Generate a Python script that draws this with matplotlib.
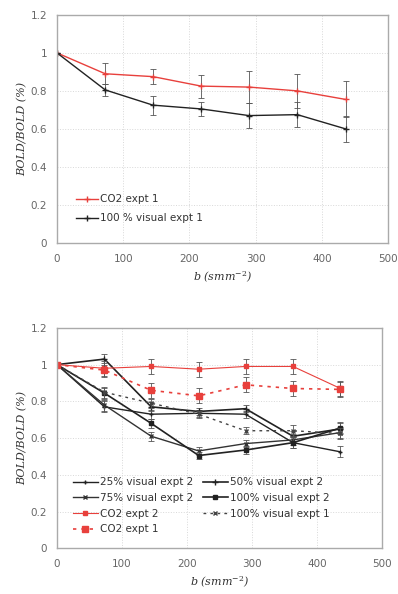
import numpy as np
import matplotlib
matplotlib.use('Agg')
import matplotlib.pyplot as plt
from matplotlib.lines import Line2D

plt.rcParams['mathtext.fontset'] = 'dejavuserif'

b = [0, 73, 145, 218, 290, 363, 436]

# top panel
co2_e1_top = [1.0, 0.89, 0.875, 0.825, 0.82, 0.80, 0.755]
co2_e1_top_err = [0, 0.055, 0.04, 0.06, 0.085, 0.09, 0.095]
vis100_e1_top = [1.0, 0.805, 0.725, 0.705, 0.67, 0.675, 0.60]
vis100_e1_top_err = [0, 0.03, 0.05, 0.035, 0.065, 0.065, 0.07]

# bottom panel
vis25_e2 = [1.0, 0.77, 0.73, 0.735, 0.73, 0.575, 0.525]
vis50_e2 = [1.0, 1.03, 0.77, 0.745, 0.76, 0.61, 0.65]
vis75_e2 = [1.0, 0.78, 0.61, 0.53, 0.57, 0.59, 0.63]
vis100_e2 = [1.0, 0.845, 0.68, 0.505, 0.535, 0.575, 0.655]
vis100_e1 = [1.0, 0.85, 0.79, 0.73, 0.64, 0.64, 0.625]
co2_e2 = [1.0, 0.98, 0.99, 0.975, 0.99, 0.99, 0.87]
co2_e1 = [1.0, 0.97, 0.86, 0.83, 0.89, 0.87, 0.865]
black_err = [0, 0.03, 0.025, 0.02, 0.02, 0.03, 0.03]
red_err = [0, 0.04, 0.04, 0.04, 0.04, 0.04, 0.04]

red = '#e8403c'
gray = '#666666'
k = '#222222'


def style_axes(ax):
    ax.set_xlim(0, 500)
    ax.set_ylim(0, 1.2)
    ax.set_xticks(np.arange(0, 501, 100))
    ax.set_yticks(np.arange(0, 1.21, 0.2))
    ax.set_yticklabels(['0', '0.2', '0.4', '0.6', '0.8', '1', '1.2'])
    ax.grid(True, linestyle=':', color='#d8d8d8', linewidth=0.7)
    for s in ax.spines.values():
        s.set_color('#aaaaaa')
        s.set_linewidth(1.0)
    ax.tick_params(length=0, labelsize=7.5, labelcolor=gray)
    ax.tick_params(axis='x', pad=8)
    ax.tick_params(axis='y', pad=7)
    ax.set_ylabel('BOLD/BOLD (%)', fontsize=8, style='italic', family='DejaVu Serif',
                  color='#333333', labelpad=2)
    ax.set_xlabel(r'b (smm$^{-2}$)', fontsize=8, style='italic', family='DejaVu Serif',
                  color='#333333', labelpad=4)


def series(ax, y, err, color, marker, ms, lw, ls='-'):
    ax.errorbar(b, y, yerr=err, fmt='none', ecolor='#555555', capsize=2,
                elinewidth=0.6, capthick=0.6)
    ax.plot(b, y, color=color, marker=marker, markersize=ms, linewidth=lw, linestyle=ls)
    return Line2D([], [], color=color, marker=marker, markersize=ms, linewidth=lw, linestyle=ls)


fig = plt.figure(figsize=(3.98, 5.94), dpi=100)
ax1 = fig.add_axes([0.143, 0.591, 0.832, 0.384])
ax2 = fig.add_axes([0.143, 0.077, 0.817, 0.371])

h_co2 = series(ax1, co2_e1_top, co2_e1_top_err, red, '+', 4, 1.0)
h_vis = series(ax1, vis100_e1_top, vis100_e1_top_err, k, '+', 4, 1.0)
style_axes(ax1)
leg = ax1.legend([h_co2, h_vis], ['CO2 expt 1', '100 % visual expt 1'], loc='lower left',
                 bbox_to_anchor=(0.03, 0.045), frameon=False, fontsize=7.5,
                 handlelength=2.1, handletextpad=0.2, labelspacing=0.85)
for t in leg.get_texts():
    t.set_color('#333333')

h25 = series(ax2, vis25_e2, black_err, k, '+', 3, 1.0)
h50 = series(ax2, vis50_e2, black_err, k, '+', 4, 1.2)
h75 = series(ax2, vis75_e2, black_err, '#333333', 'x', 2.5, 1.0)
h100 = series(ax2, vis100_e2, black_err, k, 's', 3, 1.2)
hc2 = series(ax2, co2_e2, red_err, red, 's', 2.5, 0.8)
h100e1 = series(ax2, vis100_e1, black_err, '#444444', 'x', 2.5, 1.0, (0, (2, 3)))
hc1 = series(ax2, co2_e1, red_err, red, 's', 4, 1.2, (0, (2, 3)))
style_axes(ax2)
# ncol fills column by column
handles = [h25, h75, hc2, hc1, h50, h100, h100e1]
labels = ['25% visual expt 2', '75% visual expt 2', 'CO2 expt 2', 'CO2 expt 1',
          '50% visual expt 2', '100% visual expt 2', '100% visual expt 1']
leg2 = ax2.legend(handles, labels, loc='lower left', bbox_to_anchor=(0.02, 0.02), ncol=2,
                  frameon=False, fontsize=7.5, handlelength=2.4, handletextpad=0.2,
                  labelspacing=0.55, columnspacing=0.9)
for t in leg2.get_texts():
    t.set_color('#333333')

fig.savefig('out.png', dpi=100)
